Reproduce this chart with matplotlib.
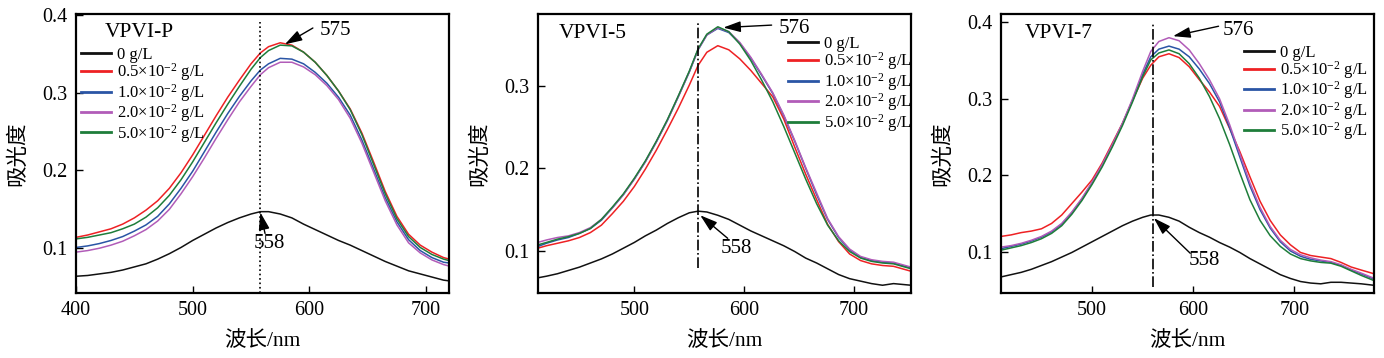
import matplotlib
matplotlib.use("Agg")
import matplotlib.pyplot as plt

plt.rcParams["font.family"] = ["Liberation Serif", "Noto Sans CJK SC"]
plt.rcParams["mathtext.fontset"] = "custom"
plt.rcParams["mathtext.rm"] = "Liberation Serif"
plt.rcParams["mathtext.it"] = "Liberation Serif:italic"

labels = ["0 g/L", r"0.5×10$^{-2}$ g/L", r"1.0×10$^{-2}$ g/L",
          r"2.0×10$^{-2}$ g/L", r"5.0×10$^{-2}$ g/L"]
colors = ["#111111", "#ee2124", "#2a55a5", "#b15cb8", "#1e7d3a"]

# VPVI-P
p_wl = [400, 410, 420, 430, 440, 450, 460, 470, 480, 490, 500, 510, 520, 530, 540, 550,
        558, 565, 575, 585, 595, 605, 615, 625, 635, 645, 655, 665, 675, 685, 695, 705,
        715, 720]
p_0 = [.064, .065, .067, .069, .072, .076, .080, .086, .093, .101, .110, .118, .126, .133,
       .139, .144, .147, .147, .144, .139, .131, .124, .117, .110, .104, .097, .090, .083,
       .077, .071, .067, .063, .059, .058]
p_05 = [.114, .117, .121, .125, .131, .139, .149, .161, .177, .197, .220, .245, .270, .294,
        .316, .337, .351, .359, .364, .361, .352, .339, .322, .302, .279, .248, .211, .173,
        .141, .118, .104, .095, .088, .086]
p_10 = [.101, .103, .106, .110, .115, .122, .130, .141, .157, .177, .199, .224, .249, .273,
        .295, .315, .329, .337, .344, .343, .337, .326, .312, .294, .271, .239, .202, .165,
        .134, .111, .097, .088, .082, .081]
p_20 = [.095, .097, .100, .104, .109, .116, .124, .135, .150, .170, .192, .216, .241, .265,
        .288, .308, .323, .332, .339, .339, .333, .323, .309, .291, .267, .235, .198, .161,
        .130, .107, .094, .085, .079, .077]
p_50 = [.112, .114, .117, .120, .125, .131, .140, .152, .168, .188, .211, .236, .261, .285,
        .308, .330, .345, .354, .361, .360, .352, .339, .322, .302, .278, .246, .208, .170,
        .138, .115, .101, .092, .086, .084]

# VPVI-5
s5_wl = [412, 420, 430, 440, 450, 460, 470, 480, 490, 500, 510, 520, 530, 540, 550, 558,
         566, 576, 586, 596, 606, 616, 626, 636, 646, 656, 666, 676, 686, 696, 706, 716,
         726, 736, 744, 752]
s5_0 = [.067, .069, .072, .076, .080, .085, .090, .096, .103, .110, .118, .125, .133, .140,
        .146, .148, .147, .143, .138, .131, .124, .118, .112, .106, .099, .091, .085, .078,
        .071, .066, .063, .060, .058, .060, .059, .058]
s5_05 = [.103, .106, .109, .112, .116, .122, .131, .145, .160, .178, .199, .222, .247, .273,
         .301, .325, .341, .349, .344, .333, .319, .303, .287, .260, .226, .193, .162, .132,
         .111, .096, .088, .084, .082, .081, .078, .075]
s5_10 = [.105, .109, .113, .116, .121, .127, .137, .152, .168, .187, .208, .232, .258, .287,
         .317, .344, .362, .370, .365, .352, .334, .313, .291, .264, .233, .200, .168, .138,
         .116, .101, .092, .088, .086, .085, .082, .079]
s5_20 = [.110, .113, .116, .118, .122, .128, .138, .152, .168, .187, .208, .232, .258, .287,
         .317, .344, .362, .371, .366, .353, .335, .314, .292, .265, .234, .201, .170, .139,
         .117, .102, .093, .089, .087, .086, .083, .080]
s5_50 = [.107, .110, .114, .117, .121, .127, .138, .153, .169, .188, .209, .233, .259, .288,
         .318, .345, .363, .372, .366, .351, .331, .307, .281, .251, .219, .187, .157, .131,
         .112, .099, .091, .087, .085, .084, .081, .078]

# VPVI-7
s7_wl = [410, 420, 430, 440, 450, 460, 470, 480, 490, 500, 510, 520, 530, 540, 550, 558,
         566, 576, 586, 596, 606, 616, 626, 636, 646, 656, 666, 676, 686, 696, 706, 716,
         726, 736, 746, 756, 766, 779]
s7_0 = [.067, .070, .073, .077, .082, .087, .093, .099, .106, .113, .120, .127, .134, .140,
        .145, .148, .148, .145, .140, .132, .125, .119, .112, .106, .099, .091, .084, .077,
        .070, .065, .061, .059, .058, .060, .060, .059, .058, .056]
s7_05 = [.120, .122, .125, .127, .130, .137, .148, .163, .178, .194, .216, .242, .268, .298,
         .327, .344, .355, .359, .354, .342, .325, .309, .290, .261, .231, .198, .166, .141,
         .122, .109, .099, .095, .093, .091, .086, .080, .076, .071]
s7_10 = [.104, .107, .110, .114, .119, .126, .136, .151, .169, .190, .213, .239, .267, .298,
         .332, .355, .365, .369, .365, .355, .339, .320, .296, .262, .224, .186, .155, .131,
         .113, .101, .094, .090, .088, .086, .082, .076, .071, .064]
s7_20 = [.106, .108, .111, .115, .120, .127, .137, .152, .170, .191, .214, .240, .268, .300,
         .336, .362, .375, .380, .376, .364, .346, .325, .300, .266, .228, .190, .158, .133,
         .115, .103, .096, .092, .089, .087, .083, .077, .072, .065]
s7_50 = [.102, .105, .108, .112, .117, .124, .134, .149, .167, .188, .211, .237, .265, .296,
         .329, .351, .360, .364, .359, .346, .327, .303, .274, .240, .203, .168, .141, .121,
         .107, .097, .091, .088, .086, .085, .081, .075, .069, .062]

panels = [
    dict(name="VPVI-P", wl=p_wl, ys=[p_0, p_05, p_10, p_20, p_50],
         xlim=(400, 720), ylim=(0.0425, 0.401), yticks=[0.1, 0.2, 0.3, 0.4],
         vline=558, vstyle=":", vspan=(0.0, 0.97),
         peak="575", peak_txt=(622, 0.380), peak_tail=(603, 0.383), peak_tip=(579, 0.362),
         low_txt=(566, 0.106), low_tail=(562, 0.119), low_tip=(558, 0.146),
         title_pos=(425, 0.377), leg=(0.013, 0.882)),
    dict(name="VPVI-5", wl=s5_wl, ys=[s5_0, s5_05, s5_10, s5_20, s5_50],
         xlim=(412, 752), ylim=(0.0486, 0.3875), yticks=[0.1, 0.2, 0.3],
         vline=558, vstyle="-.", vspan=(0.09, 0.97),
         peak="576", peak_txt=(646, 0.370), peak_tail=(625, 0.374), peak_tip=(581, 0.371),
         low_txt=(593, 0.103), low_tail=(585, 0.115), low_tip=(560, 0.143),
         title_pos=(431, 0.364), leg=(0.670, 0.921)),
    dict(name="VPVI-7", wl=s7_wl, ys=[s7_0, s7_05, s7_10, s7_20, s7_50],
         xlim=(410, 779), ylim=(0.046, 0.411), yticks=[0.1, 0.2, 0.3, 0.4],
         vline=560, vstyle="-.", vspan=(0.02, 0.97),
         peak="576", peak_txt=(645, 0.390), peak_tail=(625, 0.395), peak_tip=(580, 0.382),
         low_txt=(611, 0.089), low_tail=(597, 0.098), low_tip=(561, 0.144),
         title_pos=(433, 0.386), leg=(0.650, 0.890)),
]

fig = plt.figure(figsize=(13.84, 3.58), dpi=100)
lefts = [76 / 1384, 537.7 / 1384, 1001 / 1384]
for left, p in zip(lefts, panels):
    ax = fig.add_axes([left, 0.1816, 0.2698, 0.7793])
    for y, c, lab in zip(p["ys"], colors, labels):
        ax.plot(p["wl"], y, color=c, lw=1.1, label=lab)
    ax.set_xlim(*p["xlim"])
    ax.set_ylim(*p["ylim"])
    ax.set_xticks([400, 500, 600, 700] if p["xlim"][0] <= 400 else [500, 600, 700])
    ax.set_yticks(p["yticks"])
    ax.set_yticklabels([f"{t:.1f}" for t in p["yticks"]])
    ax.tick_params(direction="in", length=5, width=1, labelsize=14.5, pad=6)
    for s in ax.spines.values():
        s.set_linewidth(1.6)

    ax.axvline(p["vline"], ymin=p["vspan"][0], ymax=p["vspan"][1], color="black",
               ls=p["vstyle"], lw=1.2)
    arrow = dict(arrowstyle="-|>,head_length=0.7,head_width=0.22", color="black",
                 lw=1.0, shrinkA=0, shrinkB=0, mutation_scale=15)
    ax.annotate("", xy=p["peak_tip"], xytext=p["peak_tail"], arrowprops=arrow)
    ax.annotate("", xy=p["low_tip"], xytext=p["low_tail"], arrowprops=arrow)
    ax.text(*p["peak_txt"], p["peak"], fontsize=15, ha="center", va="center")
    ax.text(*p["low_txt"], "558", fontsize=15, ha="center", va="center")
    ax.text(*p["title_pos"], p["name"], fontsize=15.5, ha="left", va="center")

    leg = ax.legend(loc="upper left", bbox_to_anchor=p["leg"], frameon=False,
                    fontsize=12, handlelength=1.8, handletextpad=0.35,
                    labelspacing=-0.09, borderpad=0, borderaxespad=0)
    for h in leg.get_lines():
        h.set_linewidth(2.0)

    ax.set_xlabel("波长/nm", fontsize=15.5)
    ax.set_ylabel("吸光度", fontsize=15.5)
    ax.xaxis.set_label_coords(0.5, -0.135)
    ax.yaxis.set_label_coords(-0.128, 0.5)

fig.savefig("out.png", dpi=100)
